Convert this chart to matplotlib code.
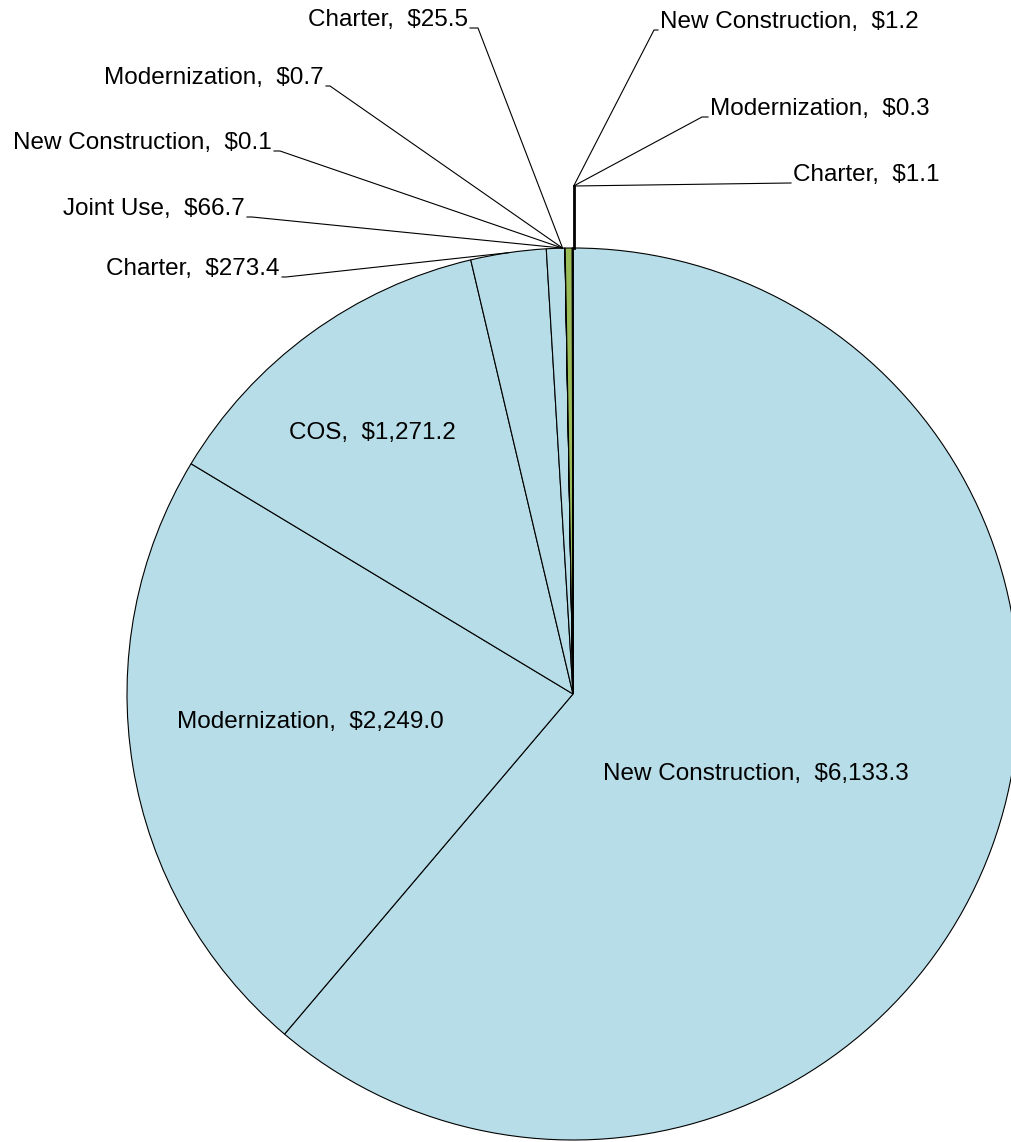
import numpy as np
import matplotlib
matplotlib.use("Agg")
import matplotlib.pyplot as plt

plt.rcParams['font.family'] = ['Liberation Sans', 'DejaVu Sans']

categories = ["New Construction", "Modernization", "COS", "Charter", "Joint Use",
              "New Construction", "Modernization", "Charter",
              "New Construction", "Modernization", "Charter"]
values = [6133.3, 2249.0, 1271.2, 273.4, 66.7, 0.1, 0.7, 25.5, 1.2, 0.3, 1.1]
groups = ["A", "A", "A", "A", "A", "B", "B", "B", "C", "C", "C"]

group_colors = {"A": "#B7DEE8", "B": "#9BBB59", "C": "#9BBB59"}

W, H = 1011, 1142
fig = plt.figure(figsize=(W / 100, H / 100), dpi=100)
ax = fig.add_axes([0, 0, 1, 1])

cx, cy, R = 573, H - 694, 446
wedges, _ = ax.pie(values, colors=[group_colors[g] for g in groups],
                   startangle=90, counterclock=False, radius=R, center=(cx, cy),
                   wedgeprops=dict(edgecolor="black", linewidth=0.8))
ax.set_xlim(0, W)
ax.set_ylim(0, H)
ax.set_aspect("equal")
ax.axis("off")

FS = 17.5


def fmt(c, v):
    return f"{c},  ${v:,.1f}"


def edge_pt(theta, r=R):
    t = np.deg2rad(theta)
    return cx + r * np.cos(t), cy + r * np.sin(t)


# inside labels (pixel layout positions, y from top)
inside = {0: (756, 774), 1: (310, 722), 2: (372, 433)}
for i, (x, y) in inside.items():
    ax.text(x, H - y, fmt(categories[i], values[i]), ha="center", va="center", fontsize=FS)

# outside labels, left side: (text right x, text center y from top, elbow x)
left = {3: (280, 269, 286), 4: (245, 209, 252), 5: (272, 143, 280),
        6: (324, 78, 330), 7: (468, 20, 478)}
anchor_left = edge_pt(wedges[4].theta1 + 0.3)
for i, (x, y, ex) in left.items():
    ax.text(x, H - y, fmt(categories[i], values[i]), ha="right", va="center", fontsize=FS)
    if i == 3:
        tx, ty = edge_pt((wedges[i].theta1 + wedges[i].theta2) / 2)
    else:
        tx, ty = anchor_left
    ly = H - (y + 8)
    ax.plot([x + 2, ex, tx], [ly, ly, ty], color="black", lw=0.8)

# outside labels, right side: (text left x, text center y from top, elbow x)
right = {8: (660, 22, 654), 9: (710, 109, 702), 10: (793, 175, 790)}
top_pt = edge_pt(wedges[10].theta2)
hub = (top_pt[0] + 1, H - 186)
for i, (x, y, ex) in right.items():
    ax.text(x, H - y, fmt(categories[i], values[i]), ha="left", va="center", fontsize=FS)
    ly = H - (y + 8)
    ax.plot([x - 2, ex, hub[0]], [ly, ly, hub[1]], color="black", lw=0.8)
ax.plot([hub[0], hub[0]], [hub[1], top_pt[1]], color="black", lw=2.0)

fig.savefig("out.png", dpi=100)
